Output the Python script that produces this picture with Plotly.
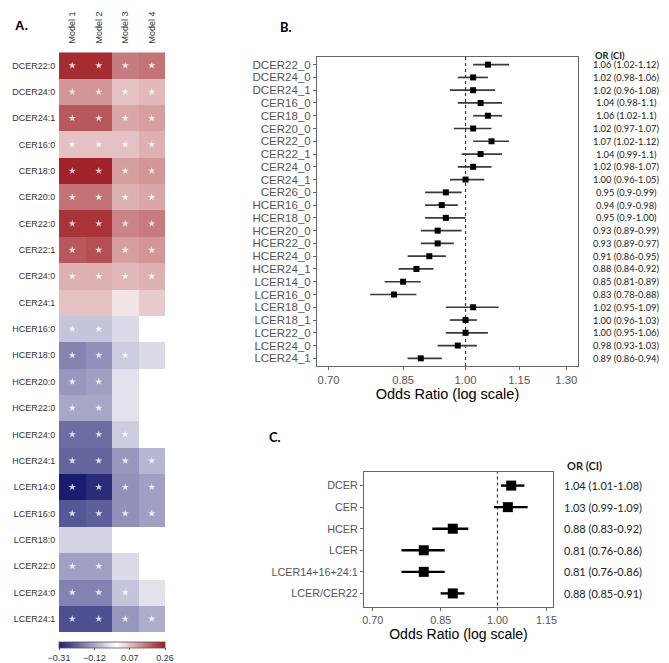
import plotly.graph_objects as go

W, H = 669, 663
def px(x): return x / W
def py(y): return 1 - y / H

ARIAL = "Liberation Sans, Arial, sans-serif"
CAL = "Lato, Open Sans, sans-serif"

# ---------------- Panel A data ----------------
heat_rows = ["DCER22:0", "DCER24:0", "DCER24:1", "CER16:0", "CER18:0", "CER20:0",
             "CER22:0", "CER22:1", "CER24:0", "CER24:1", "HCER16:0", "HCER18:0",
             "HCER20:0", "HCER22:0", "HCER24:0", "HCER24:1", "LCER14:0", "LCER16:0",
             "LCER18:0", "LCER22:0", "LCER24:0", "LCER24:1"]
model_names = ["Model 1", "Model 2", "Model 3", "Model 4"]
model1 = [0.24, 0.12, 0.19, 0.07, 0.25, 0.16, 0.23, 0.19, 0.09, 0.07, -0.08, -0.17,
          -0.14, -0.12, -0.20, -0.21, -0.31, -0.23, -0.06, -0.13, -0.17, -0.24]
model2 = [0.24, 0.12, 0.19, 0.07, 0.25, 0.16, 0.23, 0.20, 0.09, 0.07, -0.08, -0.15,
          -0.13, -0.12, -0.20, -0.21, -0.29, -0.22, -0.06, -0.13, -0.17, -0.24]
model3 = [0.15, 0.07, 0.10, 0.07, 0.11, 0.09, 0.14, 0.11, 0.08, 0.03, -0.05, -0.07,
          -0.04, -0.04, -0.07, -0.14, -0.15, -0.15, 0.00, -0.05, -0.08, -0.14]
model4 = [0.16, 0.08, 0.11, 0.09, 0.12, 0.10, 0.15, 0.12, 0.09, 0.06, 0.00, -0.05,
          0.00, 0.00, 0.00, -0.10, -0.13, -0.13, 0.00, 0.00, -0.04, -0.11]
sig1 = [1, 1, 1, 1, 1, 1, 1, 1, 1, 0, 1, 1, 1, 1, 1, 1, 1, 1, 0, 1, 1, 1]
sig2 = [1, 1, 1, 1, 1, 1, 1, 1, 1, 0, 1, 1, 1, 1, 1, 1, 1, 1, 0, 1, 1, 1]
sig3 = [1, 1, 1, 1, 1, 1, 1, 1, 1, 0, 0, 1, 0, 0, 1, 1, 1, 1, 0, 0, 1, 1]
sig4 = [1, 1, 1, 1, 1, 1, 1, 1, 1, 0, 0, 0, 0, 0, 0, 1, 1, 1, 0, 0, 0, 1]
cb_ticks = [-0.31, -0.12, 0.07, 0.26]
cb_labels = ["\u22120.31", "\u22120.12", "0.07", "0.26"]

# ---------------- Panel B data ----------------
b_labels = ["DCER22_0", "DCER24_0", "DCER24_1", "CER16_0", "CER18_0", "CER20_0",
            "CER22_0", "CER22_1", "CER24_0", "CER24_1", "CER26_0", "HCER16_0",
            "HCER18_0", "HCER20_0", "HCER22_0", "HCER24_0", "HCER24_1", "LCER14_0",
            "LCER16_0", "LCER18_0", "LCER18_1", "LCER22_0", "LCER24_0", "LCER24_1"]
b_or = [1.06, 1.02, 1.02, 1.04, 1.06, 1.02, 1.07, 1.04, 1.02, 1.00, 0.95, 0.94,
        0.95, 0.93, 0.93, 0.91, 0.88, 0.85, 0.83, 1.02, 1.00, 1.00, 0.98, 0.89]
b_lo = [1.02, 0.98, 0.96, 0.98, 1.02, 0.97, 1.02, 0.99, 0.98, 0.96, 0.90, 0.90,
        0.90, 0.89, 0.89, 0.86, 0.84, 0.81, 0.78, 0.95, 0.96, 0.95, 0.93, 0.86]
b_hi = [1.12, 1.06, 1.08, 1.10, 1.10, 1.07, 1.12, 1.10, 1.07, 1.05, 0.99, 0.98,
        1.00, 0.99, 0.97, 0.95, 0.92, 0.89, 0.88, 1.09, 1.03, 1.06, 1.03, 0.94]
b_text = ["1.06 (1.02-1.12)", "1.02 (0.98-1.06)", "1.02 (0.96-1.08)", "1.04 (0.98-1.1)",
          "1.06 (1.02-1.1)", "1.02 (0.97-1.07)", "1.07 (1.02-1.12)", "1.04 (0.99-1.1)",
          "1.02 (0.98-1.07)", "1.00 (0.96-1.05)", "0.95 (0.9-0.99)", "0.94 (0.9-0.98)",
          "0.95 (0.9-1.00)", "0.93 (0.89-0.99)", "0.93 (0.89-0.97)", "0.91 (0.86-0.95)",
          "0.88 (0.84-0.92)", "0.85 (0.81-0.89)", "0.83 (0.78-0.88)", "1.02 (0.95-1.09)",
          "1.00 (0.96-1.03)", "1.00 (0.95-1.06)", "0.98 (0.93-1.03)", "0.89 (0.86-0.94)"]
b_ticks = [0.70, 0.85, 1.00, 1.15, 1.30]
b_ticklabels = ["0.70", "0.85", "1.00", "1.15", "1.30"]

# ---------------- Panel C data ----------------
c_labels = ["DCER", "CER", "HCER", "LCER", "LCER14+16+24:1", "LCER/CER22"]
c_or = [1.04, 1.03, 0.88, 0.81, 0.81, 0.88]
c_lo = [1.01, 0.99, 0.83, 0.76, 0.76, 0.85]
c_hi = [1.08, 1.09, 0.92, 0.86, 0.86, 0.91]
c_text = ["1.04 (1.01-1.08)", "1.03 (0.99-1.09)", "0.88 (0.83-0.92)",
          "0.81 (0.76-0.86)", "0.81 (0.76-0.86)", "0.88 (0.85-0.91)"]
c_ticks = [0.70, 0.85, 1.00, 1.15]
c_ticklabels = ["0.70", "0.85", "1.00", "1.15"]
ref_value = 1.0

fig = go.Figure()

# ---- Heatmap ----
z = [[model1[i], model2[i], model3[i], model4[i]] for i in range(len(heat_rows))]
colorscale = [[0.0, "#1b1c70"], [0.5439, "#ffffff"], [1.0, "#9d1a20"]]
fig.add_trace(go.Heatmap(
    z=z, x=model_names, y=heat_rows, zmin=-0.31, zmax=0.26,
    colorscale=colorscale, xaxis="x", yaxis="y", hoverinfo="skip",
    colorbar=dict(orientation="h", x=px(112), xanchor="center", y=py(642.3),
                  yanchor="top", len=106 / W, lenmode="fraction", thickness=6,
                  thicknessmode="pixels", xpad=0, ypad=0, outlinewidth=0.8,
                  outlinecolor="#555", tickvals=cb_ticks, ticktext=cb_labels,
                  ticks="outside", ticklen=2, tickcolor="#555",
                  tickfont=dict(size=9, color="#333", family=ARIAL))))

sigs = [sig1, sig2, sig3, sig4]
sx, sy = [], []
for j, s in enumerate(sigs):
    for i, v in enumerate(s):
        if v:
            sx.append(model_names[j]); sy.append(heat_rows[i])
fig.add_trace(go.Scatter(x=sx, y=sy, mode="markers", xaxis="x", yaxis="y",
                         marker=dict(symbol="star", size=5.5, color="rgba(255,255,255,0.8)",
                                     line=dict(width=0)), hoverinfo="skip"))

# ---- Panel B ----
b_y = list(range(len(b_labels)))
fig.add_trace(go.Scatter(x=[ref_value, ref_value], y=[-0.6, len(b_labels) - 0.4],
                         mode="lines", line=dict(color="#333", width=1.2, dash="dot"),
                         xaxis="x2", yaxis="y2", hoverinfo="skip"))
fig.add_trace(go.Scatter(
    x=b_or, y=b_y, mode="markers", xaxis="x2", yaxis="y2",
    marker=dict(symbol="square", size=6, color="black"),
    error_x=dict(type="data", symmetric=False,
                 array=[h - o for h, o in zip(b_hi, b_or)],
                 arrayminus=[o - l for o, l in zip(b_or, b_lo)],
                 width=0, thickness=1.7, color="#3a3a3a")))

# ---- Panel C ----
c_y = list(range(len(c_labels)))
fig.add_trace(go.Scatter(x=[ref_value, ref_value], y=[-0.7, len(c_labels) - 0.3],
                         mode="lines", line=dict(color="#333", width=1.2, dash="dot"),
                         xaxis="x3", yaxis="y3", hoverinfo="skip"))
fig.add_trace(go.Scatter(
    x=c_or, y=c_y, mode="markers", xaxis="x3", yaxis="y3",
    marker=dict(symbol="square", size=10, color="black"),
    error_x=dict(type="data", symmetric=False,
                 array=[h - o for h, o in zip(c_hi, c_or)],
                 arrayminus=[o - l for o, l in zip(c_or, c_lo)],
                 width=0, thickness=2.4, color="black")))

box = dict(showline=True, mirror=True, linecolor="#666", linewidth=1,
           showgrid=False, zeroline=False, ticks="outside", ticklen=3,
           tickcolor="#666", tickwidth=1, automargin=False)

annotations = []
for i, t in enumerate(b_text):
    annotations.append(dict(x=px(626), y=i, xref="paper", yref="y2", text=t,
                            showarrow=False, xanchor="center", yanchor="middle",
                            borderpad=0, font=dict(family=CAL, size=9.3, color="#222")))
for i, t in enumerate(c_text):
    annotations.append(dict(x=px(603), y=i, xref="paper", yref="y3", text=t,
                            showarrow=False, xanchor="center", yanchor="middle",
                            borderpad=0, font=dict(family=CAL, size=11, color="#222")))
annotations += [
    dict(x=px(626), y=py(49), xref="paper", yref="paper", text="<b>OR (CI)</b>",
         showarrow=False, borderpad=0, font=dict(family=CAL, size=9.3, color="#222")),
    dict(x=px(603), y=py(473), xref="paper", yref="paper", text="<b>OR (CI)</b>",
         showarrow=False, borderpad=0, font=dict(family=CAL, size=11, color="#222")),
    dict(x=px(14), y=py(16.5), xref="paper", yref="paper", text="<b>A.</b>",
         showarrow=False, xanchor="left", borderpad=0,
         font=dict(family=ARIAL, size=13, color="black")),
    dict(x=px(279), y=py(17.5), xref="paper", yref="paper", text="<b>B.</b>",
         showarrow=False, xanchor="left", borderpad=0,
         font=dict(family=CAL, size=13, color="black")),
    dict(x=px(268), y=py(446), xref="paper", yref="paper", text="<b>C.</b>",
         showarrow=False, xanchor="left", borderpad=0,
         font=dict(family=CAL, size=13, color="black")),
]

fig.update_layout(
    width=W, height=H, margin=dict(l=0, r=0, t=0, b=0, autoexpand=False),
    paper_bgcolor="white", plot_bgcolor="white", showlegend=False,
    font=dict(family=ARIAL),
    xaxis=dict(domain=[px(59), px(165)], anchor="y", side="top", tickangle=-90,
               range=[-0.5, 3.5], showgrid=False, zeroline=False, showline=False,
               ticks="outside", ticklen=6, tickcolor="rgba(0,0,0,0)", automargin=False,
               tickfont=dict(size=9, color="#333")),
    yaxis=dict(domain=[py(632), py(52.3)], anchor="x", range=[len(heat_rows) - 0.5, -0.5],
               showgrid=False, zeroline=False, showline=False, automargin=False,
               ticks="outside", ticklen=1, tickcolor="rgba(0,0,0,0)",
               tickfont=dict(size=9, color="#333")),
    xaxis2=dict(domain=[px(317), px(578)], anchor="y2", type="log",
                range=[-0.1680, 0.1272], tickvals=b_ticks, ticktext=b_ticklabels,
                tickfont=dict(size=11.3, color="#555"),
                title=dict(text="Odds Ratio (log scale)", standoff=3,
                           font=dict(size=14.5, color="black")), **box),
    yaxis2=dict(domain=[py(366), py(57)], anchor="x2",
                range=[len(b_labels) - 0.4, -0.6], tickvals=b_y, ticktext=b_labels,
                tickfont=dict(size=11.5, color="#555"), **box),
    xaxis3=dict(domain=[px(364), px(553)], anchor="y3", type="log",
                range=[-0.1657, 0.0689], tickvals=c_ticks, ticktext=c_ticklabels,
                tickfont=dict(size=10.8, color="#555"),
                title=dict(text="Odds Ratio (log scale)", standoff=3,
                           font=dict(size=14, color="black")), **box),
    yaxis3=dict(domain=[py(607), py(472)], anchor="x3",
                range=[len(c_labels) - 0.37, -0.63], tickvals=c_y, ticktext=c_labels,
                tickfont=dict(size=10.8, color="#555"), **box),
    annotations=annotations,
)

fig.write_html("out.html", config={"displayModeBar": False},
               post_script="document.body.style.margin='0';document.body.style.padding='0';")
